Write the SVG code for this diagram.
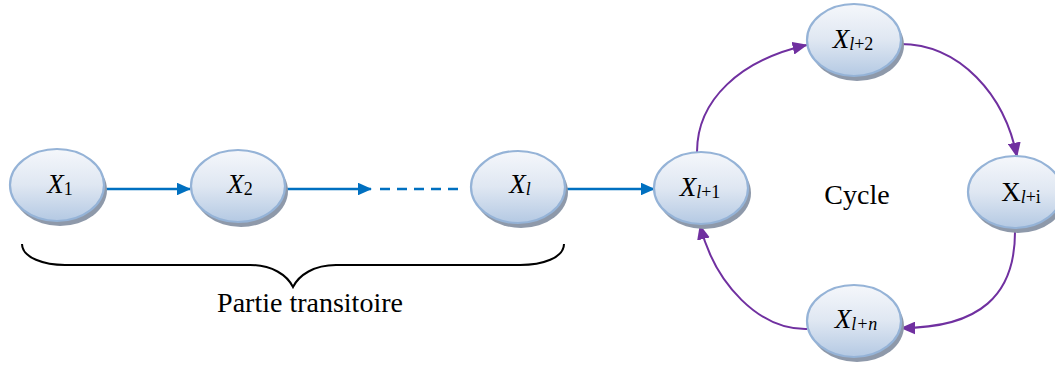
<svg xmlns="http://www.w3.org/2000/svg" width="1055" height="366" viewBox="0 0 1055 366">
<style>
.node{fill:url(#g);stroke:#95b3d7;stroke-width:2.2}
.shadow{fill:#8e99aa}
.lbl{font-family:"Liberation Serif","Times New Roman",serif;font-size:27px;fill:#000;text-anchor:middle}
.it{font-style:italic}
.sub{font-size:18px}
.blue{stroke:#0070c0;stroke-width:2.4;fill:none}
.purple{stroke:#7030a0;stroke-width:2;fill:none}
.txt{font-family:"Liberation Serif","Times New Roman",serif;font-size:28px;fill:#000;text-anchor:middle}
</style>
<defs>
<linearGradient id="g" x1="0" y1="0" x2="0" y2="1">
<stop offset="0" stop-color="#f5f7fb"/>
<stop offset="0.5" stop-color="#dfe7f2"/>
<stop offset="1" stop-color="#b4c9e3"/>
</linearGradient>
<marker id="ab" markerWidth="6" markerHeight="5.4" refX="5.6" refY="2.7" orient="auto" markerUnits="strokeWidth" viewBox="0 0 6 5.4">
<path d="M0,0 L6,2.7 L0,5.4 z" fill="#0070c0"/>
</marker>
<marker id="ap" markerWidth="7.5" markerHeight="6.5" refX="7.2" refY="3.25" orient="auto" markerUnits="strokeWidth" viewBox="0 0 7.5 6.5">
<path d="M0,0 L7.5,3.25 L0,6.5 z" fill="#7030a0"/>
</marker>
</defs>

<g id="connectors">
<line class="blue" x1="104" y1="189" x2="190" y2="189" marker-end="url(#ab)"/>
<line class="blue" x1="285" y1="189" x2="371" y2="189" marker-end="url(#ab)"/>
<line class="blue" x1="380" y1="189" x2="463" y2="189" stroke-dasharray="10 7"/>
<line class="blue" x1="565" y1="189" x2="654" y2="189" marker-end="url(#ab)"/>
<path class="purple" d="M697,152 C697,100 740,60 807,45" marker-end="url(#ap)"/>
<path class="purple" d="M900,44 C960,44 1005,95 1017,157" marker-end="url(#ap)"/>
<path class="purple" d="M1015,232 C1015,295 980,328 901,328" marker-end="url(#ap)"/>
<path class="purple" d="M807,329 C760,330 715,285 700,225" marker-end="url(#ap)"/>
</g>

<g id="n-x1">
<ellipse class="shadow" cx="60" cy="190" rx="47" ry="36"/>
<ellipse class="node" cx="57" cy="185" rx="47" ry="36"/>
<text class="lbl" x="60" y="193"><tspan class="it">X</tspan><tspan class="sub" dy="2">1</tspan></text>
</g>
<g id="n-x2">
<ellipse class="shadow" cx="241" cy="191" rx="47" ry="36"/>
<ellipse class="node" cx="238" cy="186" rx="47" ry="36"/>
<text class="lbl" x="240" y="193"><tspan class="it">X</tspan><tspan class="sub" dy="2">2</tspan></text>
</g>
<g id="n-xl">
<ellipse class="shadow" cx="521" cy="192" rx="47" ry="36"/>
<ellipse class="node" cx="518" cy="187" rx="47" ry="36"/>
<text class="lbl" x="520" y="193"><tspan class="it">X</tspan><tspan class="sub it" dy="2">l</tspan></text>
</g>
<g id="n-xl1">
<ellipse class="shadow" cx="704" cy="193" rx="47" ry="36"/>
<ellipse class="node" cx="701" cy="188" rx="47" ry="36"/>
<text class="lbl" x="700" y="196"><tspan class="it">X</tspan><tspan class="sub" dy="2"><tspan class="it">l</tspan>+1</tspan></text>
</g>
<g id="n-xl2">
<ellipse class="shadow" cx="857" cy="45" rx="47" ry="36"/>
<ellipse class="node" cx="854" cy="40" rx="47" ry="36"/>
<text class="lbl" x="853" y="48"><tspan class="it">X</tspan><tspan class="sub" dy="2"><tspan class="it">l</tspan>+2</tspan></text>
</g>
<g id="n-xli">
<ellipse class="shadow" cx="1018" cy="197" rx="47" ry="36"/>
<ellipse class="node" cx="1015" cy="192" rx="47" ry="36"/>
<text class="lbl" x="1021" y="201">X<tspan class="sub" dy="2"><tspan class="it">l</tspan>+i</tspan></text>
</g>
<g id="n-xln">
<ellipse class="shadow" cx="857" cy="326" rx="47" ry="36"/>
<ellipse class="node" cx="854" cy="321" rx="47" ry="36"/>
<text class="lbl" x="856" y="328"><tspan class="it">X</tspan><tspan class="sub it" dy="2">l+n</tspan></text>
</g>

<g id="brace">
<path d="M22,244 C22,258 45,265 65,265 L250,265 C272,265 287,275 293,287 C299,275 314,265 336,265 L520,265 C542,265 564,258 564,244" fill="none" stroke="#000" stroke-width="2"/>
</g>
<text class="txt" x="310" y="312">Partie transitoire</text>
<text class="txt" x="857" y="204">Cycle</text>
</svg>
